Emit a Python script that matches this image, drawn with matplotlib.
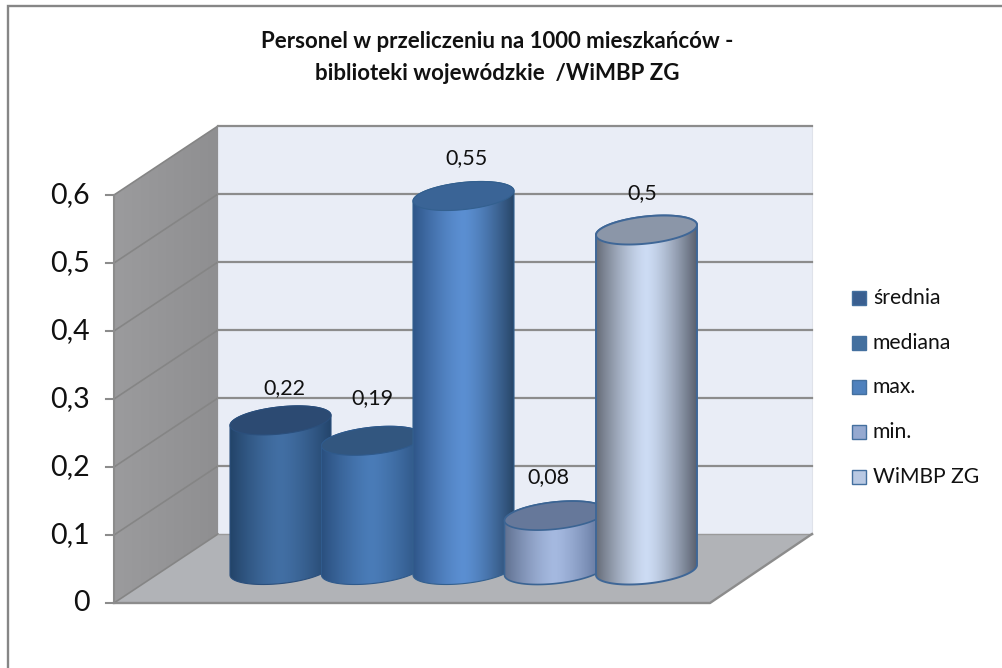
import numpy as np
import matplotlib
matplotlib.use("Agg")
import matplotlib.pyplot as plt
from matplotlib.colors import LinearSegmentedColormap
from matplotlib.patches import PathPatch, Polygon, Rectangle
from matplotlib.path import Path

plt.rcParams['font.family'] = ['Lato', 'DejaVu Sans']

series = ['średnia', 'mediana', 'max.', 'min.', 'WiMBP ZG']
values = [0.22, 0.19, 0.55, 0.08, 0.5]
value_labels = ['0,22', '0,19', '0,55', '0,08', '0,5']
ticks = [0, 0.1, 0.2, 0.3, 0.4, 0.5, 0.6]
tick_labels = ['0', '0,1', '0,2', '0,3', '0,4', '0,5', '0,6']

# side colours: edge left, middle, edge right, then the top and the outline
side_colors = [
    ['#234469', '#426fa4', '#24456c'],
    ['#2a4f7e', '#4a7cb8', '#2c5280'],
    ['#2f5689', '#5b8fd2', '#284668'],
    ['#5f7090', '#a5b9e0', '#5a6e95'],
    ['#666c78', '#cddcf4', '#5a616f'],
]
top_colors = ['#2c4a72', '#32567f', '#3a6496', '#66789a', '#8b96a8']
edge_colors = ['#2b4f7c', '#2f5a8c', '#33608f', '#3b6493', '#3f6797']
edge_widths = [0.8, 0.8, 0.8, 1.2, 1.4]
legend_colors = ['#3a5f90', '#44709f', '#4f81bd', '#95a9d0', '#b9c9e3']

# layout of the fake 3D box, in pixels of the picture
FRONT_X, BACK_X, RIGHT_BACK_X, RIGHT_FRONT_X = 114, 218, 812, 710
FRONT_Y0, BACK_Y0 = 603, 534
PX_PER_UNIT = 680
BASE_Y = 570
CYL_X0, CYL_STEP, CYL_W = 230, 91.5, 101
ELL_B, ELL_SHEAR = 13.6, -0.1
label_nudge = [(4, -32), (0, -43), (3, -38), (-7, -39), (-4, -37)]


def front_y(v):
    return FRONT_Y0 - PX_PER_UNIT * v


def back_y(v):
    return BACK_Y0 - PX_PER_UNIT * v


def ellipse_points(cx, cy, start, stop, n=60):
    a = CYL_W / 2
    t = np.linspace(start, stop, n)
    return np.column_stack([cx + a * np.cos(t),
                            cy + ELL_B * np.sin(t) + ELL_SHEAR * a * np.cos(t)])


fig = plt.figure(figsize=(10.02, 6.68), dpi=100)
ax = fig.add_axes([0, 0, 1, 1])
ax.set_xlim(0, 1002)
ax.set_ylim(668, 0)
ax.axis('off')

# frame, only top and left are visible
ax.plot([8, 8, 1002], [668, 5.5, 5.5], color='#868686', lw=1.7, solid_joinstyle='miter')

# walls and floor
top = max(ticks)
ax.add_patch(Rectangle((BACK_X, back_y(top)), RIGHT_BACK_X - BACK_X, PX_PER_UNIT * top,
                       fc='#e9edf6', ec='#dfe2ea', lw=0.8, zorder=1))
wall = Polygon([(FRONT_X, front_y(0)), (FRONT_X, front_y(top)),
                (BACK_X, back_y(top)), (BACK_X, back_y(0))], fc='none', ec='none', zorder=1)
ax.add_patch(wall)
wall_img = ax.imshow(np.linspace(0, 1, 50).reshape(1, -1), aspect='auto',
                     cmap=LinearSegmentedColormap.from_list('w', ['#9b9b9d', '#8f8f91']),
                     extent=(FRONT_X, BACK_X, FRONT_Y0, back_y(top)), zorder=1)
wall_img.set_clip_path(wall)
ax.add_patch(Polygon([(FRONT_X, FRONT_Y0), (BACK_X, BACK_Y0), (RIGHT_BACK_X, BACK_Y0),
                      (RIGHT_FRONT_X, FRONT_Y0)], fc='#b1b3b7', ec='none', zorder=1.5))

# gridlines and ticks
for v in ticks:
    ax.plot([FRONT_X, BACK_X], [front_y(v), back_y(v)], color='#858585', lw=1.2, zorder=2)
    if v > 0:
        ax.plot([BACK_X, RIGHT_BACK_X], [back_y(v), back_y(v)], color='#8c8c8c', lw=1.6, zorder=2)
    ax.plot([FRONT_X - 8, FRONT_X], [front_y(v), front_y(v)], color='#8c8c8c', lw=1.5, zorder=2)
ax.plot([BACK_X, RIGHT_BACK_X], [BACK_Y0, BACK_Y0], color='#9a9a9a', lw=1, zorder=2)
ax.plot([FRONT_X, FRONT_X], [front_y(0), front_y(top)], color='#8c8c8c', lw=1.5, zorder=2)
ax.plot([FRONT_X, RIGHT_FRONT_X, RIGHT_BACK_X], [FRONT_Y0, FRONT_Y0, BACK_Y0],
        color='#8c8c8c', lw=1.7, zorder=2)
for v, lab in zip(ticks, tick_labels):
    ax.text(90, front_y(v), lab, ha='right', va='center', fontsize=20.5, color='#111111', zorder=8)

# shading is lightest in the middle and falls off towards the edges
shade = np.linspace(-1, 1, 160)
shade = 0.5 + 0.5 * np.sign(shade) * np.abs(shade) ** 1.4

# cylinders, later ones stand in front
for i, v in enumerate(values):
    left = CYL_X0 + i * CYL_STEP
    cx = left + CYL_W / 2
    top_y = BASE_Y - PX_PER_UNIT * v
    z = 3 + i * 0.1
    bottom = ellipse_points(cx, BASE_Y, 0, np.pi)
    upper = ellipse_points(cx, top_y, np.pi, 2 * np.pi)
    lower = ellipse_points(cx, top_y, 0, np.pi)
    body = np.vstack([bottom, upper, bottom[:1]])
    patch = PathPatch(Path(body), fc='none', ec=edge_colors[i], lw=edge_widths[i], zorder=z + 0.02)
    ax.add_patch(patch)
    cmap = LinearSegmentedColormap.from_list('c%d' % i, side_colors[i])
    img = ax.imshow(shade.reshape(1, -1), aspect='auto', cmap=cmap, vmin=0, vmax=1,
                    extent=(left, left + CYL_W, BASE_Y + 20, top_y - 20), zorder=z)
    img.set_clip_path(patch)
    ax.add_patch(Polygon(np.vstack([upper, lower]), fc=top_colors[i], ec=edge_colors[i],
                         lw=edge_widths[i], zorder=z + 0.03))
    dx, dy = label_nudge[i]
    ax.text(cx + dx, top_y + dy, value_labels[i], ha='center', va='center',
            fontsize=15.5, color='#111111', zorder=8)

# restore limits changed by imshow
ax.set_xlim(0, 1002)
ax.set_ylim(668, 0)

# legend
for i, (name, col) in enumerate(zip(series, legend_colors)):
    y = 298 + i * 44.7
    ax.add_patch(Rectangle((852.5, y - 7), 14, 14, fc=col, ec='#44709f', lw=1, zorder=8))
    ax.text(873, y, name, ha='left', va='center', fontsize=15.2, color='#111111', zorder=8)

# title
ax.text(497.5, 42, 'Personel w przeliczeniu na 1000 mieszkańców -', ha='center', va='center',
        fontsize=16, fontweight='bold', color='#111111')
ax.text(497.5, 73, 'biblioteki wojewódzkie  /WiMBP ZG', ha='center', va='center',
        fontsize=16, fontweight='bold', color='#111111')

fig.savefig('out.png', dpi=100)
